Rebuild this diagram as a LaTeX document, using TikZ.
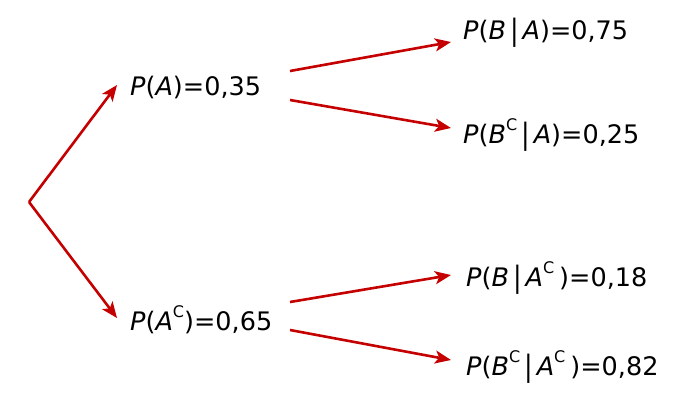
\documentclass[tikz,border=0pt]{standalone}
\usepackage{fontspec}
\setmainfont{DejaVu Sans}
\usetikzlibrary{arrows.meta}
\definecolor{arrred}{RGB}{196,0,0}
\newcommand\iv[1]{\textit{#1}}
\newcommand\cbar{\hspace{4pt}\raisebox{-1pt}{\scalebox{1}[1.15]{|}}\hspace{4pt}}
\newcommand\csup{\raisebox{13pt}{\fontsize{16}{16}\selectfont C}}
\begin{document}
\begin{tikzpicture}[x=1pt,y=-1pt,
  lbl/.style={anchor=west,inner sep=0pt,font=\fontsize{25.5}{30}\selectfont},
  conn/.style={draw=arrred,line width=2.6pt,-{Stealth[length=16pt,width=13pt,inset=4pt]}}]
\useasboundingbox (0,0) rectangle (696,400);
\coordinate (root) at (29,202);
\node[lbl] (pa) at (130,88) {\iv{P}(\iv{A})=0,35};
\node[lbl] (pac) at (130,320) {\iv{P}(\iv{A}\csup)=0,65};
\node[lbl] (pba) at (463,33) {\iv{P}(\iv{B}\cbar\iv{A})=0,75};
\node[lbl] (pbca) at (463,135) {\iv{P}(\iv{B}\csup\cbar\iv{A})=0,25};
\node[lbl] (pbac) at (466,278) {\iv{P}(\iv{B}\cbar\iv{A}\csup\hspace{5pt})=0,18};
\node[lbl] (pbcac) at (466,367) {\iv{P}(\iv{B}\csup\cbar\iv{A}\csup\hspace{5pt})=0,82};
\draw[conn] (root) -- ([shift={(-13,-3)}]pa.west);
\draw[conn] (root) -- ([shift={(-13,-2)}]pac.west);
\draw[conn] ([shift={(160,-17)}]pa.west) -- ([shift={(-12,9)}]pba.west);
\draw[conn] ([shift={(160,12)}]pa.west) -- ([shift={(-12,-7)}]pbca.west);
\draw[conn] ([shift={(160,-18)}]pac.west) -- ([shift={(-15,-3)}]pbac.west);
\draw[conn] ([shift={(160,10)}]pac.west) -- ([shift={(-15,-7)}]pbcac.west);
\end{tikzpicture}
\end{document}
